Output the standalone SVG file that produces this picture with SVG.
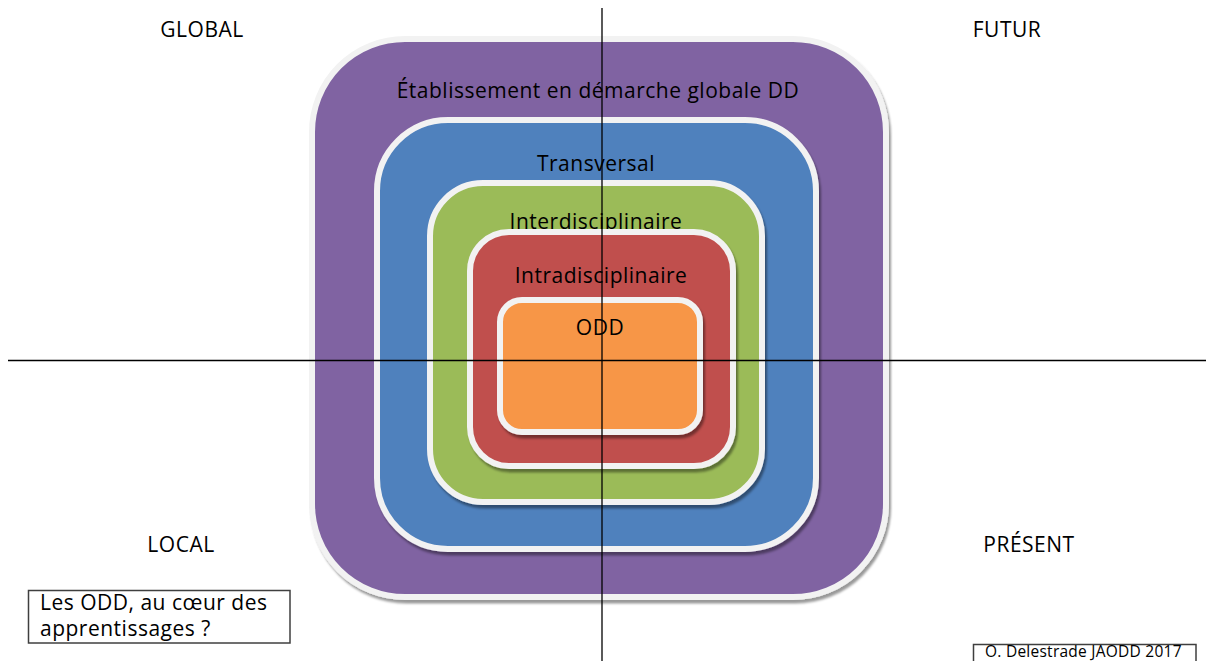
<svg xmlns="http://www.w3.org/2000/svg" width="1208" height="661" viewBox="0 0 1208 661">
<defs>
<filter id="sh" x="-10%" y="-10%" width="120%" height="120%">
<feDropShadow dx="2" dy="3.5" stdDeviation="1.2" flood-color="#000" flood-opacity="0.4"/>
</filter>
</defs>
<style>
.box{stroke:#F2F2F2;stroke-width:6;filter:url(#sh)}
.t{font-family:"Open Sans","Liberation Sans",sans-serif;font-size:21px;letter-spacing:0.5px;fill:#000}
.c{text-anchor:middle}
.ax{stroke:#000;stroke-width:1.3;fill:none}
.frame{fill:#fff;stroke:#3f3f3f;stroke-width:1.5}
</style>
<rect width="1208" height="661" fill="#fff"/>
<g id="etablissement">
<rect class="box" x="312" y="39" width="574" height="558" rx="93" fill="#8064A2"/>
<text class="t c" x="598" y="98">Établissement en démarche globale DD</text>
</g>
<g id="transversal">
<rect class="box" x="377" y="120" width="439" height="429" rx="71" fill="#4F81BD"/>
<text class="t c" x="596" y="171">Transversal</text>
</g>
<g id="interdisciplinaire">
<rect class="box" x="430" y="183" width="332" height="319" rx="53" fill="#9BBB59"/>
<text class="t c" x="596" y="229">Interdisciplinaire</text>
</g>
<g id="intradisciplinaire">
<rect class="box" x="470" y="232" width="263" height="234" rx="39" fill="#C0504D"/>
<text class="t c" x="601" y="283">Intradisciplinaire</text>
</g>
<g id="odd">
<rect class="box" x="500" y="300" width="200" height="132" rx="22" fill="#F79646"/>
<text class="t c" x="600" y="335">ODD</text>
</g>
<g id="axes">
<line class="ax" x1="602" y1="8" x2="602" y2="661"/>
<line class="ax" x1="8" y1="360.5" x2="1206" y2="360.5"/>
</g>
<g id="labels">
<text class="t c" x="202" y="37">GLOBAL</text>
<text class="t c" x="1007" y="37">FUTUR</text>
<text class="t c" x="181" y="552">LOCAL</text>
<text class="t c" x="1029" y="552">PRÉSENT</text>
</g>
<g id="question">
<rect class="frame" x="28.5" y="590.5" width="261.5" height="52.5"/>
<text class="t" x="40" y="610">Les ODD, au cœur des</text>
<text class="t" x="40" y="636">apprentissages ?</text>
</g>
<g id="credit">
<rect class="frame" x="973.5" y="644.5" width="222.5" height="20"/>
<text class="t" x="985" y="657" style="font-size:15.5px;letter-spacing:0.25px">O. Delestrade JAODD 2017</text>
</g>
</svg>
